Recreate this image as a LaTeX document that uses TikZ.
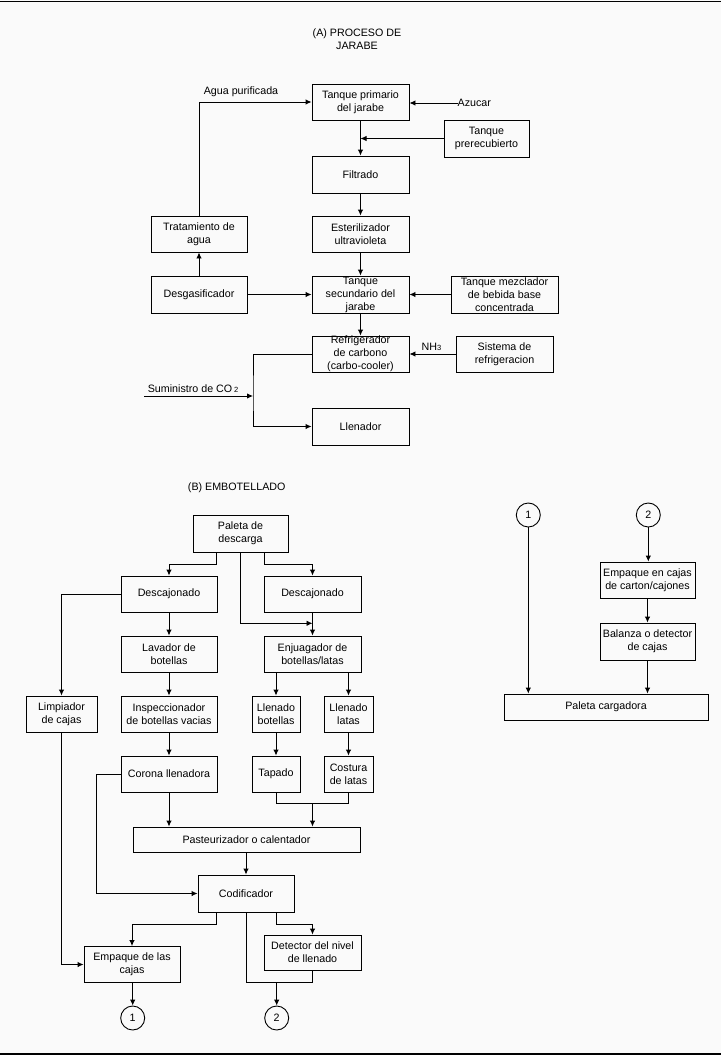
\documentclass[tikz,border=0pt]{standalone}
\usepackage{fontspec}
\setmainfont{Liberation Sans}
\usetikzlibrary{arrows.meta}
\definecolor{bgc}{RGB}{250,250,250}
\begin{document}
\begin{tikzpicture}[x=1pt,y=-1pt,
  every node/.style={font=\fontsize{10.7}{13}\selectfont},
  box/.style n args={2}{draw, line width=0.9pt, inner sep=0pt, align=center, minimum width=#1pt, minimum height=#2pt},
  lbl/.style={inner sep=0pt, align=center},
  circ/.style={draw, line width=0.9pt, circle, minimum size=24pt, inner sep=0pt},
  con/.style={line width=0.9pt},
  arr/.style={con, -{Latex[length=6pt,width=5.5pt]}}]
\fill[bgc] (0,0) rectangle (721,1055);
\useasboundingbox (0,0) rectangle (721,1055);
\draw[line width=1.2pt] (0,1.5) -- (721,1.5);
\draw[line width=1.2pt] (0,1054) -- (721,1054);

% ---------- (A) ----------
\node[lbl] (tA) at (357,39.5) {(A) PROCESO DE\\JARABE};
\node[box={97}{36}] (tp) at (360.5,102) {Tanque primario\\del jarabe};
\node[box={85}{37}] (tpre) at (486.5,138.5) {Tanque\\prerecubierto};
\node[box={97}{37}] (fil) at (360.5,174.5) {Filtrado};
\node[box={96}{36}] (trat) at (199,234) {Tratamiento de\\agua};
\node[box={97}{36}] (est) at (360.5,234) {Esterilizador\\ultravioleta};
\node[box={96}{37}] (des) at (199,294.5) {Desgasificador};
\node[box={97}{37}] (ts) at (360.5,294.5) {Tanque\\secundario del\\jarabe};
\node[box={107}{37}] (tm) at (504.5,294.5) {Tanque mezclador\\de bebida base\\concentrada};
\node[box={97}{36}] (rc) at (360.5,354) {Refrigerador\\de carbono\\(carbo-cooler)};
\node[box={97}{36}] (sr) at (504.5,354) {Sistema de\\refrigeracion};
\node[box={97}{37}] (ll) at (360.5,426.5) {Llenador};

\node[lbl, anchor=west] (az) at (457.5,103) {Azucar};
\node[lbl] (agua) at (241,92) {Agua purificada};
\node[lbl] (nh3) at (431.5,347) {NH{\fontsize{7.5}{8}\selectfont 3}};
\node[lbl] (co2) at (193,388.5) {Suministro de CO\,{\fontsize{7.5}{8}\selectfont 2}};
\coordinate (j1) at (253,396);
\coordinate (co2s) at (144,396);

\draw[arr] (az.west) -- (az.west -| tp.east);
\draw[arr] (tp.south) -- (fil.north);
\draw[arr] (tpre.west) -- (tpre.west -| tp.south);
\draw[arr] (fil.south) -- (est.north);
\draw[arr] (est.south) -- (ts.north);
\draw[arr] (ts.south) -- (rc.north);
\draw[arr] (des.north) -- (trat.south);
\draw[arr] (trat.north) |- (tp.west);
\draw[arr] (des.east) -- (ts.west);
\draw[arr] (tm.west) -- (ts.east);
\draw[arr] (sr.west) -- (rc.east);
\draw[arr] (rc.west) -| (j1) |- (ll.west);
\draw[arr] (co2s) -- (j1);

% ---------- (B) ----------
\node[lbl] (tB) at (236.7,487.3) {(B) EMBOTELLADO};
\node[box={95}{37}] (pd) at (240.5,533.5) {Paleta de\\descarga};
\node[box={96}{36}] (d1) at (169,594) {Descajonado};
\node[box={97}{36}] (d2) at (312.5,594) {Descajonado};
\node[box={96}{36}] (lav) at (169,654) {Lavador de\\botellas};
\node[box={97}{36}] (enj) at (312.5,654) {Enjuagador de\\botellas/latas};
\node[box={71}{36}] (lim) at (61.5,714) {Limpiador\\de cajas};
\node[box={96}{36}] (insp) at (169,714) {Inspeccionador\\de botellas vacias};
\node[box={48}{36}] (lb) at (276,714) {Llenado\\botellas};
\node[box={49}{36}] (lat) at (348.5,714) {Llenado\\latas};
\node[box={96}{36}] (cor) at (169,774) {Corona llenadora};
\node[box={48}{36}] (tap) at (276,774) {Tapado};
\node[box={49}{36}] (cos) at (348.5,774) {Costura\\de latas};
\node[box={227}{25}] (pas) at (246.5,839.5) {Pasteurizador o calentador};
\node[box={96}{37}] (cod) at (246,893.5) {Codificador};
\node[box={96}{36}] (emp) at (132,964.5) {Empaque de las\\cajas};
\node[box={97}{35}] (det) at (312.5,952.5) {Detector del nivel\\de llenado};
\node[circ] (c1) at (132.7,1018) {1};
\node[circ] (c2) at (276.7,1018) {2};

\node[circ] (r1) at (528.3,515) {1};
\node[circ] (r2) at (648.3,515) {2};
\node[box={95}{36}] (ec) at (647.5,580) {Empaque en cajas\\de carton/cajones};
\node[box={95}{37}] (bal) at (647.5,641.5) {Balanza o detector\\de cajas};
\node[box={204}{26}] (pc) at (606,707) {Paleta cargadora};

\coordinate (jenj) at (312.5,623.3);
\coordinate (jt) at (312.5,803.3);
\coordinate (jd) at (276.7,982.3);

\draw[arr] ([xshift=-24pt]pd.south) -- ++(0,11.7) -| (d1.north);
\draw[arr] ([xshift=24pt]pd.south) -- ++(0,11.7) -| (d2.north);
\draw[arr] (pd.south) |- (jenj);
\draw[arr] (d2.south) -- (enj.north);
\draw[arr] (d1.west) -| (lim.north);
\draw[arr] (d1.south) -- (lav.north);
\draw[arr] (lav.south) -- (insp.north);
\draw[arr] (insp.south) -- (cor.north);
\draw[arr] (cor.south) -- (cor.south |- pas.north);
\draw[arr] (enj.south -| lb.north) -- (lb.north);
\draw[arr] (enj.south -| lat.north) -- (lat.north);
\draw[arr] (lb.south) -- (tap.north);
\draw[arr] (lat.south) -- (cos.north);
\draw[con] (tap.south) |- (jt) -| (cos.south);
\draw[arr] (jt) -- (jt |- pas.north);
\draw[arr] (pas.south -| cod.north) -- (cod.north);
\draw[arr] (cor.west) -- ++(-24,0) |- (cod.west);
\draw[arr] (lim.south) |- (emp.west);
\draw[arr] ([xshift=-29.3pt]cod.south) -- ++(0,11.6) -| (emp.north);
\draw[arr] ([xshift=30.7pt]cod.south) -- ++(0,11.6) -| (det.north);
\draw[con] (cod.south) |- (jd) -| (det.south);
\draw[arr] (jd) -- (c2.north);
\draw[arr] (emp.south -| c1.north) -- (c1.north);

\draw[arr] (r1.south) -- (r1.south |- pc.north);
\draw[arr] (r2.south) -- (ec.north -| r2.south);
\draw[arr] (ec.south) -- (bal.north);
\draw[arr] (bal.south) -- (bal.south |- pc.north);
\end{tikzpicture}
\end{document}
